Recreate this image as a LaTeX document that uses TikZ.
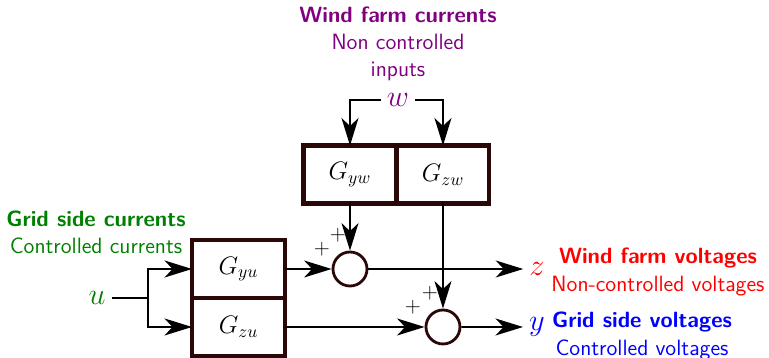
\documentclass[tikz,border=0pt]{standalone}
\usepackage{tikz}
\usetikzlibrary{
    arrows.meta,
    positioning,
    calc
}
\usepackage{xcolor}
\usepackage{amsmath}
\definecolor{darkbrown}{rgb}{0.17, 0.03, 0.03}
\definecolor{windpurple}{rgb}{0.5, 0.0, 0.5}
\definecolor{gridgreen}{rgb}{0.0, 0.5, 0.0}
\tikzstyle{block} = [
    rectangle,
    draw=darkbrown,
    line width=2.3pt,
    fill=white,
    minimum width=1.86cm,
    minimum height=1.16cm,
    outer sep=0pt,
    font=\Large
]
\tikzstyle{sumnode} = [
    circle,
    draw=darkbrown,
    line width=1.6pt,
    minimum size=0.68cm,
    inner sep=0pt
]
\tikzstyle{arrow} = [
    -{Stealth[length=0.55cm, width=0.34cm, inset=0.16cm]},
    line width=0.9pt
]
\tikzstyle{signal} = [
    font=\LARGE
]
\tikzstyle{caption} = [
    align=center,
    font=\sffamily\fontsize{12.6}{15.5}\selectfont
]

\begin{document}
\begin{tikzpicture}[x=0.02cm, y=-0.02cm]
    \useasboundingbox (0,0) rectangle (769,358);
    % plant blocks
    \node[block] (Gyw) at (350,174.5) {$G_{yw}$};
    \node[block, right=0pt of Gyw] (Gzw) {$G_{zw}$};
    \node[block] (Gyu) at (238.5,269) {$G_{yu}$};
    \node[block, below=0pt of Gyu] (Gzu) {$G_{zu}$};
    % summing junctions
    \node[sumnode] (sumz) at (Gyw |- Gyu) {};
    \node[sumnode] (sumy) at (Gzw |- Gzu) {};
    % signals
    \node[signal, text=windpurple] (w) at (398,100) {$w$};
    \node[signal, text=gridgreen] (u) at (97,298) {$u$};
    \node[signal, text=red] (z) at (537,269) {$z$};
    \node[signal, text=blue] (y) at (537,327) {$y$};
    \coordinate (split) at (148,298);
    % connections
    \draw[arrow] (w) -| (Gyw);
    \draw[arrow] (w) -| (Gzw);
    \draw[line width=0.9pt] (u) -- (split);
    \draw[arrow] (split) |- (Gyu);
    \draw[arrow] (split) |- (Gzu);
    \draw[arrow] (Gyw) -- (sumz);
    \draw[arrow] (Gzw) -- (sumy);
    \draw[arrow] (Gyu) -- (sumz);
    \draw[arrow] (Gzu) -- (sumy);
    \draw[arrow] (sumz) -- (z);
    \draw[arrow] (sumy) -- (y);
    % signs
    \node[font=\large] (pzA) at (338,235) {$+$};
    \node[font=\large] (pzB) at (322,249) {$+$};
    \node[font=\large] (pyA) at (430,293) {$+$};
    \node[font=\large] (pyB) at (413,307) {$+$};
    % captions
    \node[caption, text=windpurple] (wcap) at (398,44)
        {\textbf{Wind farm currents}\\Non controlled\\inputs};
    \node[caption, text=gridgreen] (ucap) at (96,232)
        {\textbf{Grid side currents}\\Controlled currents};
    \node[caption, text=red] (zcap) at (658,272)
        {\textbf{Wind farm voltages}\\Non-controlled voltages};
    \node[caption, text=blue] (ycap) at (642,336)
        {\textbf{Grid side voltages}\\Controlled voltages};
\end{tikzpicture}
\end{document}
